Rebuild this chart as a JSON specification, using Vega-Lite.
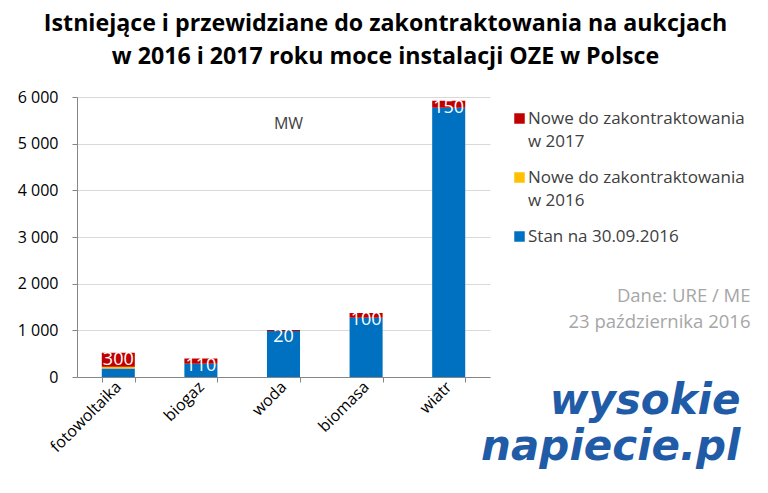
{
  "$schema": "https://vega.github.io/schema/vega-lite/v6.json",
  "width": 413,
  "height": 280,
  "autosize": {"type": "none"},
  "padding": {"left": 77, "top": 97, "right": 278, "bottom": 116},
  "background": "white",
  "title": {
    "text": ["Istniejące i przewidziane do zakontraktowania na aukcjach", "w 2016 i 2017 roku moce instalacji OZE w Polsce"],
    "font": "Open Sans",
    "fontSize": 23.2,
    "fontWeight": "bold",
    "color": "#000000",
    "lineHeight": 33,
    "anchor": "middle",
    "frame": "group",
    "dx": 102,
    "offset": 20
  },
  "data": {
    "values": [
      {"kategoria": "fotowoltaika", "seria": "Stan na 30.09.2016", "moc": 180},
      {"kategoria": "fotowoltaika", "seria": "Nowe do zakontraktowania w 2016", "moc": 40},
      {"kategoria": "fotowoltaika", "seria": "Nowe do zakontraktowania w 2017", "moc": 300},
      {"kategoria": "biogaz", "seria": "Stan na 30.09.2016", "moc": 285},
      {"kategoria": "biogaz", "seria": "Nowe do zakontraktowania w 2016", "moc": 0},
      {"kategoria": "biogaz", "seria": "Nowe do zakontraktowania w 2017", "moc": 110},
      {"kategoria": "woda", "seria": "Stan na 30.09.2016", "moc": 988},
      {"kategoria": "woda", "seria": "Nowe do zakontraktowania w 2016", "moc": 0},
      {"kategoria": "woda", "seria": "Nowe do zakontraktowania w 2017", "moc": 20},
      {"kategoria": "biomasa", "seria": "Stan na 30.09.2016", "moc": 1270},
      {"kategoria": "biomasa", "seria": "Nowe do zakontraktowania w 2016", "moc": 0},
      {"kategoria": "biomasa", "seria": "Nowe do zakontraktowania w 2017", "moc": 100},
      {"kategoria": "wiatr", "seria": "Stan na 30.09.2016", "moc": 5770},
      {"kategoria": "wiatr", "seria": "Nowe do zakontraktowania w 2016", "moc": 0},
      {"kategoria": "wiatr", "seria": "Nowe do zakontraktowania w 2017", "moc": 150}
    ]
  },
  "transform": [
    {"calculate": "indexof(['Stan na 30.09.2016', 'Nowe do zakontraktowania w 2016', 'Nowe do zakontraktowania w 2017'], datum.seria)", "as": "kolejnosc"},
    {"joinaggregate": [{"op": "sum", "field": "moc", "as": "suma"}], "groupby": ["kategoria"]}
  ],
  "encoding": {
    "x": {
      "field": "kategoria",
      "type": "nominal",
      "sort": ["fotowoltaika", "biogaz", "woda", "biomasa", "wiatr"],
      "scale": {"paddingInner": 0.6, "paddingOuter": 0.3},
      "axis": {
        "title": ["Dane: URE / ME", "23 października 2016"],
        "titleFont": "Open Sans",
        "titleFontSize": 18.5,
        "titleFontWeight": "normal",
        "titleColor": "#a6a6a6",
        "titleAlign": "right",
        "titleAnchor": null,
        "titleAngle": 0,
        "titleBaseline": "top",
        "titleLineHeight": 26,
        "titleX": 673,
        "titleY": -91,
        "labelAngle": -45,
        "labelAlign": "right",
        "labelBaseline": "middle",
        "labelFont": "Open Sans",
        "labelFontSize": 16,
        "labelColor": "#000000",
        "labelPadding": 2,
        "domainColor": "#868686",
        "tickColor": "#868686",
        "tickBand": "extent",
        "tickSize": 5,
        "grid": false
      }
    }
  },
  "layer": [
    {
      "mark": {"type": "bar"},
      "encoding": {
        "y": {
          "field": "moc",
          "type": "quantitative",
          "stack": "zero",
          "scale": {"domain": [0, 6000]},
          "axis": {
            "values": [0, 1000, 2000, 3000, 4000, 5000, 6000],
            "labelExpr": "datum.value == 0 ? '0' : floor(datum.value / 1000) + ' 000'",
            "labelFont": "Open Sans",
            "labelFontSize": 16,
            "labelColor": "#000000",
            "labelPadding": 14,
            "title": "MW",
            "titleFont": "Open Sans",
            "titleFontSize": 16,
            "titleFontWeight": "normal",
            "titleColor": "#404040",
            "titleAngle": 0,
            "titleAlign": "center",
            "titleBaseline": "middle",
            "titleAnchor": null,
            "titleX": 211,
            "titleY": 26,
            "domainColor": "#868686",
            "tickColor": "#868686",
            "tickSize": 5,
            "gridColor": "#d9d9d9",
            "grid": true
          }
        },
        "color": {
          "field": "seria",
          "type": "nominal",
          "scale": {
            "domain": ["Nowe do zakontraktowania w 2017", "Nowe do zakontraktowania w 2016", "Stan na 30.09.2016"],
            "range": ["#c00000", "#ffc000", "#0070c0"]
          },
          "legend": {
            "title": null,
            "orient": "none",
            "legendX": 434,
            "legendY": 13,
            "symbolType": "square",
            "symbolSize": 110,
            "symbolStrokeWidth": 0,
            "symbolOpacity": 1,
            "labelFont": "Open Sans",
            "labelFontSize": 17,
            "labelColor": "#404040",
            "labelLimit": 300,
            "labelOffset": 0,
            "rowPadding": 18,
            "padding": 0,
            "labelExpr": "datum.label == 'Stan na 30.09.2016' ? datum.label : ['Nowe do zakontraktowania', slice(datum.label, 25)]",
            "encode": {"labels": {"update": {"lineHeight": {"value": 23}}}}
          }
        },
        "order": {"field": "kolejnosc", "type": "quantitative", "sort": "ascending"}
      }
    },
    {
      "transform": [{"filter": "datum.seria == 'Nowe do zakontraktowania w 2017'"}],
      "mark": {"type": "text", "baseline": "top", "dy": -2, "font": "Open Sans", "fontSize": 18, "color": "white"},
      "encoding": {
        "y": {
          "field": "suma",
          "type": "quantitative",
          "scale": {"domain": [0, 6000]},
          "axis": {
            "orient": "right",
            "labels": false,
            "ticks": false,
            "domain": false,
            "grid": false,
            "title": ["wysokie", "napiecie.pl"],
            "titleFont": "DejaVu Sans",
            "titleFontSize": 42,
            "titleFontWeight": "bold",
            "titleFontStyle": "italic",
            "titleColor": "#1f5ba6",
            "titleAngle": 0,
            "titleAlign": "right",
            "titleBaseline": "top",
            "titleAnchor": null,
            "titleLineHeight": 46,
            "titleX": 250,
            "titleY": 283
          }
        },
        "text": {"field": "moc", "type": "quantitative"}
      }
    }
  ],
  "resolve": {"scale": {"y": "independent"}},
  "config": {
    "view": {"stroke": null}
  }
}
